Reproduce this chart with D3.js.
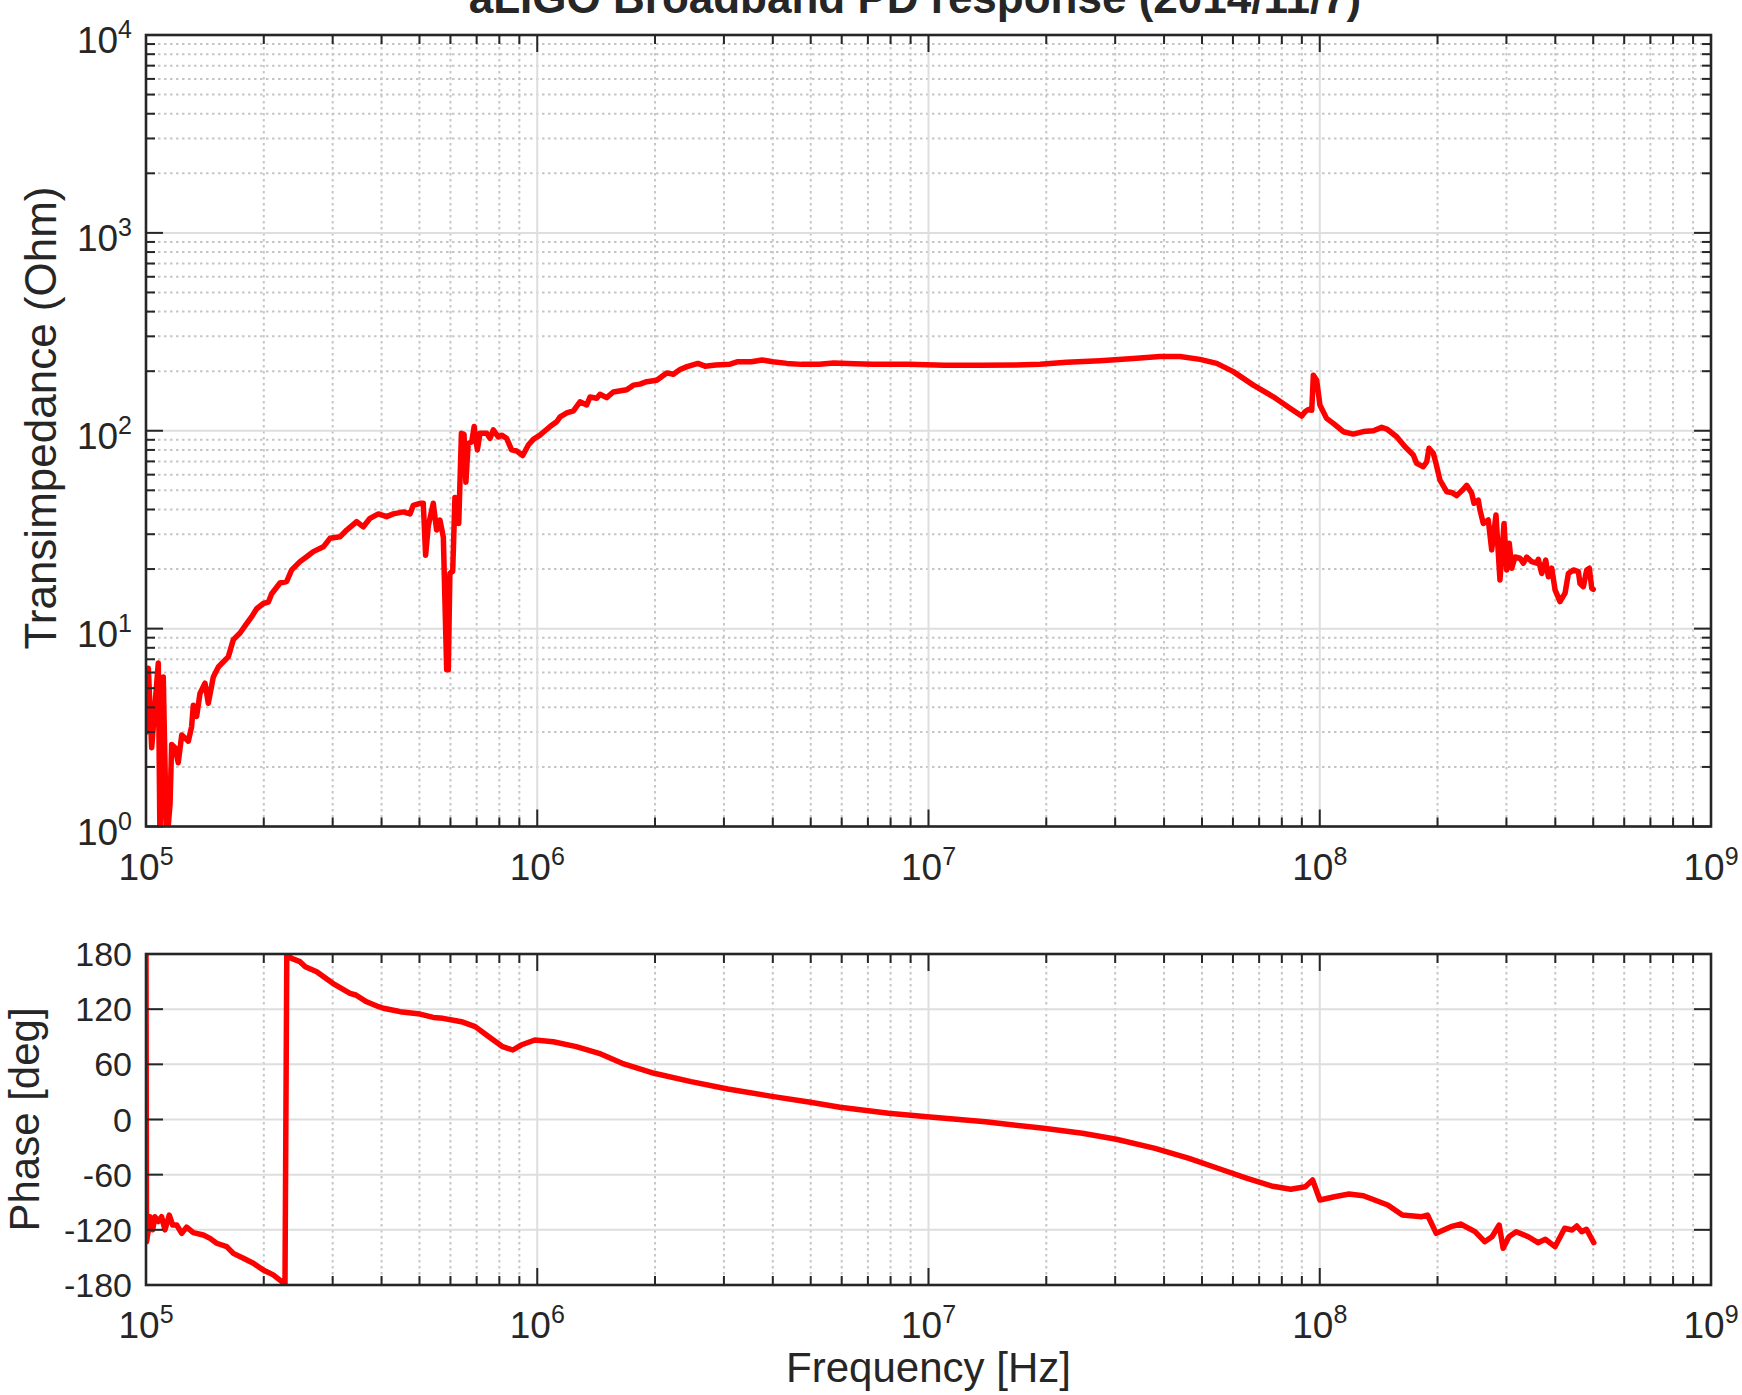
<!DOCTYPE html>
<html><head><meta charset="utf-8">
<script src="https://cdn.jsdelivr.net/npm/d3@7"></script>
<style>
body{margin:0;background:#fff}
svg{display:block}
text{font-family:"Liberation Sans",Arial,Helvetica,sans-serif;fill:#262626}
</style>
</head><body>
<svg id="chart" width="1742" height="1395"></svg>
<script>
// ---------------- data ----------------
const titleText = "aLIGO Broadband PD response (2014/11/7)";
const magLabel = "Transimpedance (Ohm)";
const phaseLabel = "Phase [deg]";
const freqLabel = "Frequency [Hz]";

const xTickExps = [5, 6, 7, 8, 9];
const magTickExps = [0, 1, 2, 3, 4];
const phaseTicks = [-180, -120, -60, 0, 60, 120, 180];

const magFreq = [
1.000e5,1.014e5,1.034e5,1.075e5,1.086e5,1.107e5,1.129e5,1.152e5,1.163e5,1.186e5,1.209e5,1.234e5,1.283e5,1.308e5,1.321e5,1.347e5,1.374e5,1.415e5,1.443e5,1.486e5,
1.531e5,1.577e5,1.623e5,1.672e5,1.739e5,1.808e5,1.863e5,1.918e5,1.995e5,2.054e5,2.095e5,2.200e5,2.288e5,2.357e5,2.475e5,2.574e5,2.677e5,2.840e5,2.953e5,3.132e5,
3.258e5,3.455e5,3.593e5,3.737e5,3.925e5,4.122e5,4.287e5,4.547e5,4.729e5,4.823e5,5.013e5,5.113e5,5.184e5,5.266e5,5.423e5,5.530e5,5.640e5,5.754e5,5.810e5,5.868e5,
5.925e5,5.980e5,6.080e5,6.160e5,6.250e5,6.300e5,6.400e5,6.500e5,6.570e5,6.660e5,6.800e5,6.900e5,7.030e5,7.140e5,7.430e5,7.570e5,7.720e5,7.950e5,8.110e5,8.350e5,
8.600e5,8.860e5,9.180e5,9.490e5,9.770e5,1.016e6,1.047e6,1.078e6,1.121e6,1.144e6,1.190e6,1.237e6,1.286e6,1.338e6,1.364e6,1.419e6,1.447e6,1.505e6,1.564e6,1.693e6,
1.760e6,1.830e6,1.904e6,2.020e6,2.142e6,2.227e6,2.317e6,2.415e6,2.574e6,2.684e6,2.858e6,3.110e6,3.242e6,3.526e6,3.755e6,4.003e6,4.350e6,4.733e6,5.260e6,5.722e6,
6.489e6,7.212e6,8.897e6,1.098e7,1.354e7,1.671e7,1.928e7,2.255e7,2.744e7,3.338e7,3.905e7,4.393e7,4.943e7,5.453e7,6.012e7,6.766e7,7.610e7,8.395e7,8.990e7,9.170e7,
9.350e7,9.540e7,9.630e7,9.820e7,1.001e8,1.041e8,1.083e8,1.149e8,1.218e8,1.292e8,1.371e8,1.440e8,1.484e8,1.573e8,1.652e8,1.734e8,1.769e8,1.839e8,1.877e8,1.902e8,
1.951e8,1.982e8,2.029e8,2.111e8,2.174e8,2.239e8,2.328e8,2.375e8,2.446e8,2.479e8,2.542e8,2.568e8,2.618e8,2.696e8,2.751e8,2.821e8,2.888e8,2.958e8,3.005e8,3.051e8,
3.095e8,3.156e8,3.250e8,3.314e8,3.381e8,3.482e8,3.586e8,3.620e8,3.693e8,3.781e8,3.839e8,3.917e8,3.994e8,4.113e8,4.236e8,4.320e8,4.449e8,4.581e8,4.626e8,4.717e8,
4.813e8,4.887e8,4.956e8,5.000e8
];
const magOhm = [
3.0,6.3,2.5,6.7,0.8,5.7,0.8,1.3,2.6,2.5,2.1,2.9,2.7,3.2,4.1,3.6,4.7,5.3,4.2,5.7,
6.4,6.8,7.2,8.8,9.5,10.6,11.5,12.6,13.4,13.6,15,17,17.3,19.8,21.8,23.1,24.5,25.9,28.6,29.1,
31.5,34.7,32.7,36.1,38,36.8,38,38.9,38,42,43,43,23.5,33,43,31.5,35.4,29,13.5,6.2,
6.2,19,19.5,46,44,34,97,96,55,86,88,105,80,97,97,91.5,101,93,95,91.5,
80,79,75,84.7,90.5,95,100,105,111,117.6,123,126,140,135,148,146,153,147,157,161,
170,172,177,180,196,193,204,211,219,212,215,217,223,223,228,223,219,216.5,217,220,
218,216.5,216.5,214,214,215,217,222,226,232,237,237,229.5,219,199,170,148.5,130,118.6,124.7,
128,127,191,180,135,115.5,109,98.9,96.2,99,100,104,102,93.3,83,75.4,68.4,65.8,69.7,81.5,
76.9,68.4,56.3,49.2,48.8,47,50.6,53,48.3,43,44.6,39.7,34,35.4,25,37.5,17.6,34,19.8,27,
20.2,23,22.7,21.4,23,21.8,21.4,22.4,19,22.2,18.3,20.2,15.7,13.7,15.1,19,19.8,19.4,16.9,16.3,
19.8,20.2,16,15.8
];

const phaseFreq = [
1.000e5,1.003e5,1.014e5,1.024e5,1.040e5,1.054e5,1.075e5,1.096e5,1.118e5,1.147e5,1.170e5,1.198e5,1.234e5,1.270e5,1.321e5,1.401e5,1.458e5,1.516e5,1.608e5,1.672e5,
1.774e5,1.881e5,1.994e5,2.115e5,2.266e5,2.290e5,2.355e5,2.475e5,2.554e5,2.731e5,3.002e5,3.322e5,3.438e5,3.664e5,3.933e5,4.043e5,4.384e5,4.460e5,5.019e5,5.425e5,
5.742e5,6.400e5,6.941e5,7.523e5,8.159e5,8.660e5,9.093e5,9.862e5,1.099e6,1.258e6,1.439e6,1.648e6,1.990e6,2.472e6,3.068e6,4.019e6,4.989e6,5.940e6,7.905e6,9.925e6,
1.398e7,1.969e7,2.474e7,3.020e7,3.795e7,4.634e7,5.656e7,6.525e7,7.523e7,8.433e7,9.186e7,9.588e7,1.001e8,1.090e8,1.188e8,1.293e8,1.492e8,1.626e8,1.822e8,1.885e8,
1.985e8,2.163e8,2.290e8,2.494e8,2.640e8,2.756e8,2.875e8,2.942e8,3.044e8,3.178e8,3.412e8,3.613e8,3.772e8,3.993e8,4.227e8,4.414e8,4.539e8,4.672e8,4.807e8,5.017e8
];
const phaseDeg = [
179,-133,-120,-105.7,-120,-105.7,-111,-105.7,-120,-104,-114.8,-114.8,-123.8,-117,-123,-125.6,-129.3,-134.6,-138.3,-145.6,
-151,-156.4,-163.7,-169,-179,179,175.3,171.7,166.2,160.8,148.1,137.3,135.4,128,122.7,121,118,117.3,114.7,111,
110,106.4,101,90,79.2,75.6,81,86.5,84.6,79.2,72,61.1,50.3,41.2,33.2,24.9,18.7,13.3,6.8,3.1,
-2.4,-9.6,-15,-21.5,-31.4,-42.2,-54.9,-64,-72.3,-75.9,-73.1,-65.8,-87.6,-84,-81,-82.9,-93,-103.9,-105.7,-103.9,
-123.8,-116.6,-113.7,-122,-132.9,-127.5,-114.8,-140.1,-127.5,-122,-127.5,-134,-130.3,-138.3,-118.3,-120.2,-115.8,-122,-119.4,-134
];

// ---------------- layout ----------------
const W = 1742, H = 1395;
const L = 146, R = 1711;
const top1 = 35, bot1 = 826.5;
const top2 = 954, bot2 = 1285;
const AX = "#262626";
const MAJOR_GRID = "#dedede";
const MINOR_GRID = "#c6c6c6";
const MAJ_TICK = 17, MIN_TICK = 9;
const TICK_FS = 34, LOG_FS = 37, EXP_FS = 25, LABEL_FS = 42, YLABEL_FS = 44, TITLE_FS = 44;

const svg = d3.select("#chart");
svg.append("rect").attr("width", W).attr("height", H).attr("fill", "#fff");

const x = d3.scaleLog().domain([1e5, 1e9]).range([L, R]);
const yMag = d3.scaleLog().domain([1, 1e4]).range([bot1, top1]);
const yPh = d3.scaleLinear().domain([-180, 180]).range([bot2, top2]);

const xMajor = xTickExps.map(e => Math.pow(10, e));
const xMinor = [];
for (let e = 5; e < 9; e++) for (let k = 2; k <= 9; k++) xMinor.push(k * Math.pow(10, e));
const magMajor = magTickExps.map(e => Math.pow(10, e));
const magMinor = [];
for (let e = 0; e < 4; e++) for (let k = 2; k <= 9; k++) magMinor.push(k * Math.pow(10, e));

function panel(id, y, top, bot, yMajorVals, yMinorVals) {
  const g = svg.append("g");
  svg.append("defs").append("clipPath").attr("id", id)
    .append("rect").attr("x", L).attr("y", top).attr("width", R - L).attr("height", bot - top);
  const mg = g.append("g").attr("stroke", MINOR_GRID).attr("stroke-width", 2).attr("stroke-dasharray", "2.5,3.5");
  xMinor.forEach(v => mg.append("line").attr("x1", x(v)).attr("x2", x(v)).attr("y1", top).attr("y2", bot));
  yMinorVals.forEach(v => mg.append("line").attr("x1", L).attr("x2", R).attr("y1", y(v)).attr("y2", y(v)));
  const jg = g.append("g").attr("stroke", MAJOR_GRID).attr("stroke-width", 2);
  xMajor.forEach(v => jg.append("line").attr("x1", x(v)).attr("x2", x(v)).attr("y1", top).attr("y2", bot));
  yMajorVals.forEach(v => jg.append("line").attr("x1", L).attr("x2", R).attr("y1", y(v)).attr("y2", y(v)));
  return g;
}

function frame(top, bot, y, yMajorVals, yMinorVals) {
  const g = svg.append("g").attr("stroke", AX).attr("stroke-width", 2);
  xMajor.forEach(v => {
    g.append("line").attr("x1", x(v)).attr("x2", x(v)).attr("y1", bot).attr("y2", bot - MAJ_TICK);
    g.append("line").attr("x1", x(v)).attr("x2", x(v)).attr("y1", top).attr("y2", top + MAJ_TICK);
  });
  xMinor.forEach(v => {
    g.append("line").attr("x1", x(v)).attr("x2", x(v)).attr("y1", bot).attr("y2", bot - MIN_TICK);
    g.append("line").attr("x1", x(v)).attr("x2", x(v)).attr("y1", top).attr("y2", top + MIN_TICK);
  });
  yMajorVals.forEach(v => {
    g.append("line").attr("x1", L).attr("x2", L + MAJ_TICK).attr("y1", y(v)).attr("y2", y(v));
    g.append("line").attr("x1", R).attr("x2", R - MAJ_TICK).attr("y1", y(v)).attr("y2", y(v));
  });
  yMinorVals.forEach(v => {
    g.append("line").attr("x1", L).attr("x2", L + MIN_TICK).attr("y1", y(v)).attr("y2", y(v));
    g.append("line").attr("x1", R).attr("x2", R - MIN_TICK).attr("y1", y(v)).attr("y2", y(v));
  });
  svg.append("rect").attr("x", L).attr("y", top).attr("width", R - L).attr("height", bot - top)
    .attr("fill", "none").attr("stroke", AX).attr("stroke-width", 2.6);
}

function powLabel(sel, exp) {
  sel.append("tspan").attr("font-size", LOG_FS).text("10");
  sel.append("tspan").attr("font-size", EXP_FS).attr("dy", -15).text(exp);
}

// ----- upper panel -----
panel("clipMag", yMag, top1, bot1, magMajor, magMinor);
const magLine = d3.line().x((d, i) => x(magFreq[i])).y(d => yMag(Math.max(d, 0.3)));
svg.append("path").datum(magOhm).attr("d", magLine).attr("clip-path", "url(#clipMag)")
  .attr("fill", "none").attr("stroke", "#ff0000").attr("stroke-width", 5.5)
  .attr("stroke-linejoin", "round").attr("stroke-linecap", "round");
frame(top1, bot1, yMag, magMajor, magMinor);

// ----- lower panel -----
panel("clipPh", yPh, top2, bot2, phaseTicks, []);
const phLine = d3.line().x((d, i) => x(phaseFreq[i])).y(d => yPh(d));
svg.append("path").datum(phaseDeg).attr("d", phLine).attr("clip-path", "url(#clipPh)")
  .attr("fill", "none").attr("stroke", "#ff0000").attr("stroke-width", 5.5)
  .attr("stroke-linejoin", "round").attr("stroke-linecap", "round");
frame(top2, bot2, yPh, phaseTicks, []);

// ----- tick labels -----
[bot1, bot2].forEach(b => {
  xTickExps.forEach(e => {
    const t = svg.append("text").attr("x", x(Math.pow(10, e))).attr("y", b + 53).attr("text-anchor", "middle");
    powLabel(t, e);
  });
});
magTickExps.forEach(e => {
  const t = svg.append("text").attr("x", 132).attr("y", yMag(Math.pow(10, e)) + 18).attr("text-anchor", "end");
  powLabel(t, e);
});
phaseTicks.forEach(v => {
  svg.append("text").attr("x", 132).attr("y", yPh(v) + 12).attr("text-anchor", "end")
    .attr("font-size", TICK_FS).text(v);
});

// ----- titles -----
svg.append("text").attr("x", 915).attr("y", 13).attr("text-anchor", "middle")
  .attr("font-size", TITLE_FS).attr("font-weight", "bold").text(titleText);
svg.append("text").attr("transform", `translate(56,418) rotate(-90)`)
  .attr("text-anchor", "middle").attr("font-size", YLABEL_FS).text(magLabel);
svg.append("text").attr("transform", `translate(39,${(top2 + bot2) / 2}) rotate(-90)`)
  .attr("text-anchor", "middle").attr("font-size", LABEL_FS).text(phaseLabel);
svg.append("text").attr("x", (L + R) / 2).attr("y", 1382).attr("text-anchor", "middle")
  .attr("font-size", LABEL_FS).text(freqLabel);
</script>
</body></html>
